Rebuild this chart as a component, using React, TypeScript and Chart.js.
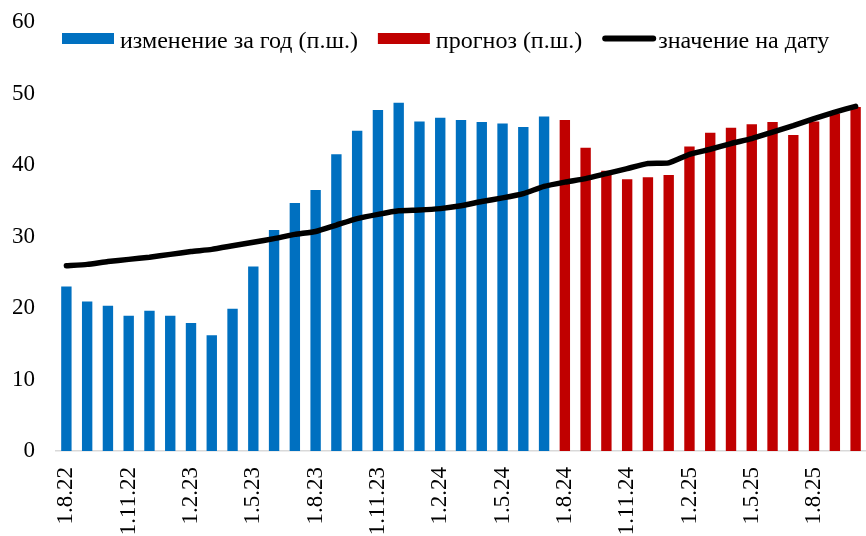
import React, { useEffect, useRef } from "react";
import { Chart, registerables } from "chart.js";

Chart.register(...registerables);

const months = [
  "1.8.22", "1.9.22", "1.10.22", "1.11.22", "1.12.22",
  "1.1.23", "1.2.23", "1.3.23", "1.4.23", "1.5.23", "1.6.23", "1.7.23", "1.8.23", "1.9.23", "1.10.23", "1.11.23", "1.12.23",
  "1.1.24", "1.2.24", "1.3.24", "1.4.24", "1.5.24", "1.6.24", "1.7.24", "1.8.24", "1.9.24", "1.10.24", "1.11.24", "1.12.24",
  "1.1.25", "1.2.25", "1.3.25", "1.4.25", "1.5.25", "1.6.25", "1.7.25", "1.8.25", "1.9.25", "1.10.25",
];

// изменение за год (п.ш.) — 1.8.22 .. 1.7.24
const yearChange = [
  23.0, 20.9, 20.3, 18.9, 19.6, 18.9, 17.9, 16.2, 19.9, 25.8, 30.9, 34.7,
  36.5, 41.5, 44.8, 47.7, 48.7, 46.1, 46.6, 46.3, 46.0, 45.8, 45.3, 46.8,
];

// прогноз (п.ш.) — 1.8.24 .. 1.10.25
const forecast = [
  46.3, 42.4, 39.2, 38.0, 38.3, 38.6, 42.6, 44.5, 45.2, 45.7, 46.0, 44.2, 46.1, 47.2, 48.1,
];

// значение на дату
const level = [
  25.9, 26.1, 26.5, 26.8, 27.1, 27.5, 27.9, 28.2, 28.7, 29.2,
  29.7, 30.3, 30.7, 31.6, 32.5, 33.1, 33.6, 33.7, 33.9, 34.3,
  34.9, 35.4, 36.0, 37.0, 37.6, 38.1, 38.8, 39.5, 40.2, 40.3,
  41.5, 42.2, 43.0, 43.7, 44.6, 45.5, 46.5, 47.4, 48.2,
];

const yTicks = [0, 10, 20, 30, 40, 50, 60];

const FONT = '"Liberation Serif", "Times New Roman", serif';

const legendPlugin = {
  id: "customLegend",
  afterDraw(chart: any) {
    const ctx = chart.ctx as CanvasRenderingContext2D;
    const ds = chart.data.datasets;
    ctx.save();
    ctx.font = `24px ${FONT}`;
    ctx.fillStyle = "#000";
    ctx.textBaseline = "alphabetic";
    let x = chart.chartArea.left + 6;
    const boxTop = 33;
    const boxH = 11;
    const boxW = 52;
    const baseline = 47.5;
    ds.forEach((d: any) => {
      if (d.type === "line") {
        ctx.strokeStyle = d.borderColor;
        ctx.lineWidth = 6;
        ctx.lineCap = "round";
        ctx.beginPath();
        ctx.moveTo(x + 3, boxTop + boxH / 2);
        ctx.lineTo(x + boxW - 1, boxTop + boxH / 2);
        ctx.stroke();
      } else {
        ctx.fillStyle = d.backgroundColor;
        ctx.fillRect(x, boxTop, boxW, boxH);
      }
      x += boxW + (d.type === "line" ? 4 : 6);
      ctx.fillStyle = "#000";
      ctx.fillText(d.label, x, baseline);
      x += ctx.measureText(d.label).width + 20;
    });
    ctx.restore();
  },
};

export default function App() {
  const ref = useRef<HTMLCanvasElement | null>(null);

  useEffect(() => {
    if (!ref.current) return;
    const blueData = months.map((_, i) => (i < yearChange.length ? yearChange[i] : null));
    const redData = months.map((_, i) =>
      i >= yearChange.length ? forecast[i - yearChange.length] ?? null : null
    );

    const chart = new Chart(ref.current, {
      type: "bar",
      data: {
        labels: months,
        datasets: [
          {
            type: "bar",
            label: "изменение за год (п.ш.)",
            data: blueData,
            backgroundColor: "#0070C0",
            grouped: false,
            barPercentage: 0.5,
            categoryPercentage: 1,
            order: 2,
          } as any,
          {
            type: "bar",
            label: "прогноз (п.ш.)",
            data: redData,
            backgroundColor: "#C00000",
            grouped: false,
            barPercentage: 0.5,
            categoryPercentage: 1,
            order: 2,
          } as any,
          {
            type: "line",
            label: "значение на дату",
            data: level,
            borderColor: "#000000",
            backgroundColor: "#000000",
            borderWidth: 5.5,
            pointRadius: 0,
            tension: 0.15,
            borderCapStyle: "round",
            borderJoinStyle: "round",
            order: 1,
          } as any,
        ],
      },
      options: {
        responsive: false,
        animation: false,
        layout: { padding: { top: 22, right: 0, bottom: 0, left: 0 } },
        plugins: {
          tooltip: { enabled: false },
          legend: { display: false },
        },
        scales: {
          x: {
            grid: { display: false },
            border: { display: true, color: "#d9d9d9", width: 1.5 },
            afterFit: (s: any) => {
              s.height = 85;
              s.paddingLeft = 0;
              s.paddingRight = 0;
            },
            ticks: {
              autoSkip: false,
              maxRotation: 90,
              minRotation: 90,
              padding: 8,
              color: "#000",
              font: { family: FONT, size: 23 },
              callback: (_v: any, i: number) => (i % 3 === 0 ? months[i] : ""),
            },
          },
          y: {
            min: 0,
            max: 60,
            grid: { display: false },
            border: { display: false },
            afterFit: (s: any) => {
              s.width = 56;
              s.paddingTop = 0;
              s.paddingBottom = 0;
            },
            afterBuildTicks: (axis: any) => {
              axis.ticks = yTicks.map((v) => ({ value: v }));
            },
            ticks: {
              padding: 13,
              color: "#000",
              font: { family: FONT, size: 23 },
            },
          },
        },
      },
      plugins: [legendPlugin],
    });
    return () => chart.destroy();
  }, []);

  return (
    <div style={{ position: "fixed", left: 0, top: 0, width: 866, height: 536, background: "#fff" }}>
      <canvas ref={ref} width={866} height={536} />
    </div>
  );
}
